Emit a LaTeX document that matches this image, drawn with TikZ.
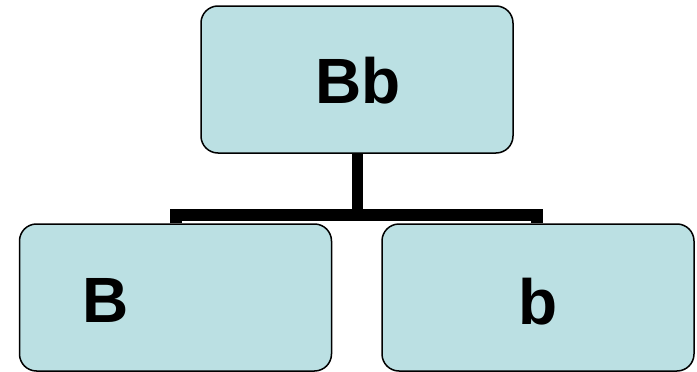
\documentclass[tikz,border=0pt]{standalone}
\usepackage{fontspec}
\setmainfont{Liberation Sans}
\definecolor{boxfill}{RGB}{187,224,227}
\begin{document}
\begin{tikzpicture}[x=1pt,y=-1pt,
  box/.style={draw=black,line width=1.5pt,fill=boxfill,rounded corners=17pt,minimum width=312pt,minimum height=147pt,inner sep=0pt},
  lbl/.style={font=\fontsize{64}{70}\selectfont\bfseries,inner sep=0pt,anchor=base},
  conn/.style={line width=11.5pt,miter limit=10}]
\useasboundingbox (0,0) rectangle (697,372);
\node[box] (top) at (357,79.5) {};
\node[box] (left) at (175.5,297.5) {};
\node[box] (right) at (538,297.5) {};
\node[lbl] (tt) at (358,103) {Bb};
\node[lbl,anchor=base west] (lt) at (82,322) {B};
\node[lbl] (rt) at (538,324) {b};
\coordinate (j) at (357.5,215);
\coordinate (lj) at (176,215);
\coordinate (rj) at (537,215);
\draw[conn] (top.south -| j) -- (j);
\draw[conn] (left.north -| lj) -- (lj) -- (rj) -- (right.north -| rj);
\end{tikzpicture}
\end{document}
